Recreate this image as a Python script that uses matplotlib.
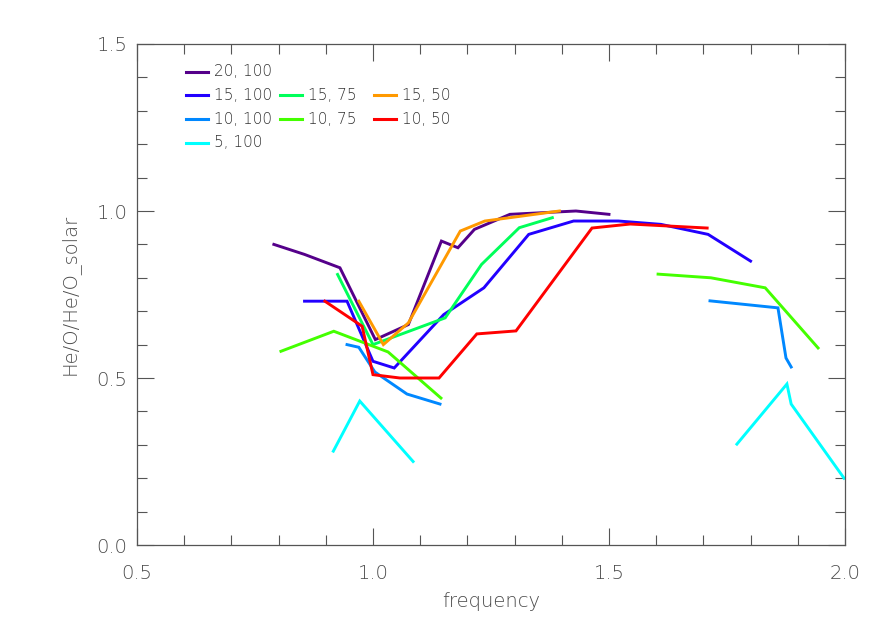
import numpy as np
import matplotlib
matplotlib.use("Agg")
import matplotlib.pyplot as plt
from matplotlib.ticker import MultipleLocator

nan = np.nan

# series: (label, colour, x, y); NaN splits a line into pieces
f20_100_x = [0.79, 0.855, 0.93, 1.005, 1.075, 1.145, 1.18, 1.215, 1.29, 1.43, 1.50]
f20_100_y = [0.90, 0.87, 0.83, 0.615, 0.66, 0.91, 0.89, 0.945, 0.99, 1.0, 0.99]

f15_100_x = [0.855, 0.945, 1.0, 1.045, 1.15, 1.235, 1.33, 1.425, 1.52, 1.61, 1.71, 1.80]
f15_100_y = [0.73, 0.73, 0.55, 0.53, 0.69, 0.77, 0.93, 0.97, 0.97, 0.96, 0.93, 0.85]

f15_75_x = [0.925, 1.0, 1.153, 1.23, 1.31, 1.38]
f15_75_y = [0.81, 0.60, 0.68, 0.84, 0.95, 0.98]

f15_50_x = [0.97, 1.022, 1.075, 1.185, 1.237, 1.29, 1.395]
f15_50_y = [0.73, 0.60, 0.665, 0.94, 0.97, 0.98, 1.0]

f10_100_x = [0.945, 0.97, 1.004, 1.072, 1.142, nan, 1.714, 1.858, 1.875, 1.886]
f10_100_y = [0.60, 0.592, 0.518, 0.452, 0.422, nan, 0.731, 0.71, 0.56, 0.533]

f10_75_x = [0.805, 0.917, 1.032, 1.144, nan, 1.604, 1.716, 1.831, 1.943]
f10_75_y = [0.58, 0.64, 0.578, 0.44, nan, 0.811, 0.80, 0.77, 0.59]

f10_50_x = [0.898, 0.977, 1.0, 1.057, 1.14, 1.22, 1.303, 1.464, 1.545, 1.708]
f10_50_y = [0.73, 0.655, 0.51, 0.50, 0.50, 0.632, 0.641, 0.949, 0.961, 0.949]

f5_100_x = [0.916, 0.972, 1.085, nan, 1.771, 1.877, 1.886, 1.998]
f5_100_y = [0.281, 0.431, 0.25, nan, 0.302, 0.482, 0.422, 0.20]

series = [
    ("20, 100", "#55008a", f20_100_x, f20_100_y),
    ("15, 100", "#2200ff", f15_100_x, f15_100_y),
    ("15, 75", "#00ff5a", f15_75_x, f15_75_y),
    ("15, 50", "#ff9900", f15_50_x, f15_50_y),
    ("10, 100", "#0088ff", f10_100_x, f10_100_y),
    ("10, 75", "#44ff00", f10_75_x, f10_75_y),
    ("10, 50", "#ff0000", f10_50_x, f10_50_y),
    ("5, 100", "#00ffff", f5_100_x, f5_100_y),
]

# legend grid position (row, column) for each label
legend_slots = {
    "20, 100": (0, 0),
    "15, 100": (1, 0), "15, 75": (1, 1), "15, 50": (1, 2),
    "10, 100": (2, 0), "10, 75": (2, 1), "10, 50": (2, 2),
    "5, 100": (3, 0),
}

grey = "#555555"
txt = "#4a4a4a"
plt.rcParams["font.family"] = "DejaVu Sans"
plt.rcParams["font.weight"] = "light"
plt.rcParams["axes.labelweight"] = "light"

fig = plt.figure(figsize=(8.86, 6.33), dpi=100)
ax = fig.add_axes([0.1546, 0.139, 0.7991, 0.7915])

for label, color, x, y in series:
    ax.plot(x, y, color=color, lw=2.1, solid_joinstyle="miter")

ax.set_xlim(0.5, 2.0)
ax.set_ylim(0.0, 1.5)
ax.xaxis.set_major_locator(MultipleLocator(0.5))
ax.xaxis.set_minor_locator(MultipleLocator(0.1))
ax.yaxis.set_major_locator(MultipleLocator(0.5))
ax.yaxis.set_minor_locator(MultipleLocator(0.1))
ax.xaxis.set_major_formatter(matplotlib.ticker.FormatStrFormatter("%.1f"))
ax.yaxis.set_major_formatter(matplotlib.ticker.FormatStrFormatter("%.1f"))

ax.tick_params(which="both", direction="in", top=True, right=True, color=grey,
               width=0.8, labelcolor=txt, labelsize=14)
ax.tick_params(which="major", length=12)
ax.tick_params(which="minor", length=7)
ax.tick_params(axis="x", pad=14)
ax.tick_params(axis="y", pad=7)
for sp in ax.spines.values():
    sp.set_color(grey)
    sp.set_linewidth(0.9)

ax.set_xlabel("frequency", fontsize=14, color=txt, labelpad=6)
ax.set_ylabel("He/O/He/O_solar", fontsize=14, color=txt, labelpad=12)

# hand-laid legend in the upper left
x0, dx_col, y0, dy_row = 0.069, 0.133, 0.945, 0.0475
for label, color, x, y in series:
    r, c = legend_slots[label]
    lx = x0 + c * dx_col
    ly = y0 - r * dy_row
    ax.plot([lx, lx + 0.031], [ly, ly], color=color, lw=2.2, transform=ax.transAxes)
    ax.text(lx + 0.040, ly, label, transform=ax.transAxes, fontsize=11,
            color="#333333", va="center", ha="left")

fig.savefig("out.png", dpi=100)
